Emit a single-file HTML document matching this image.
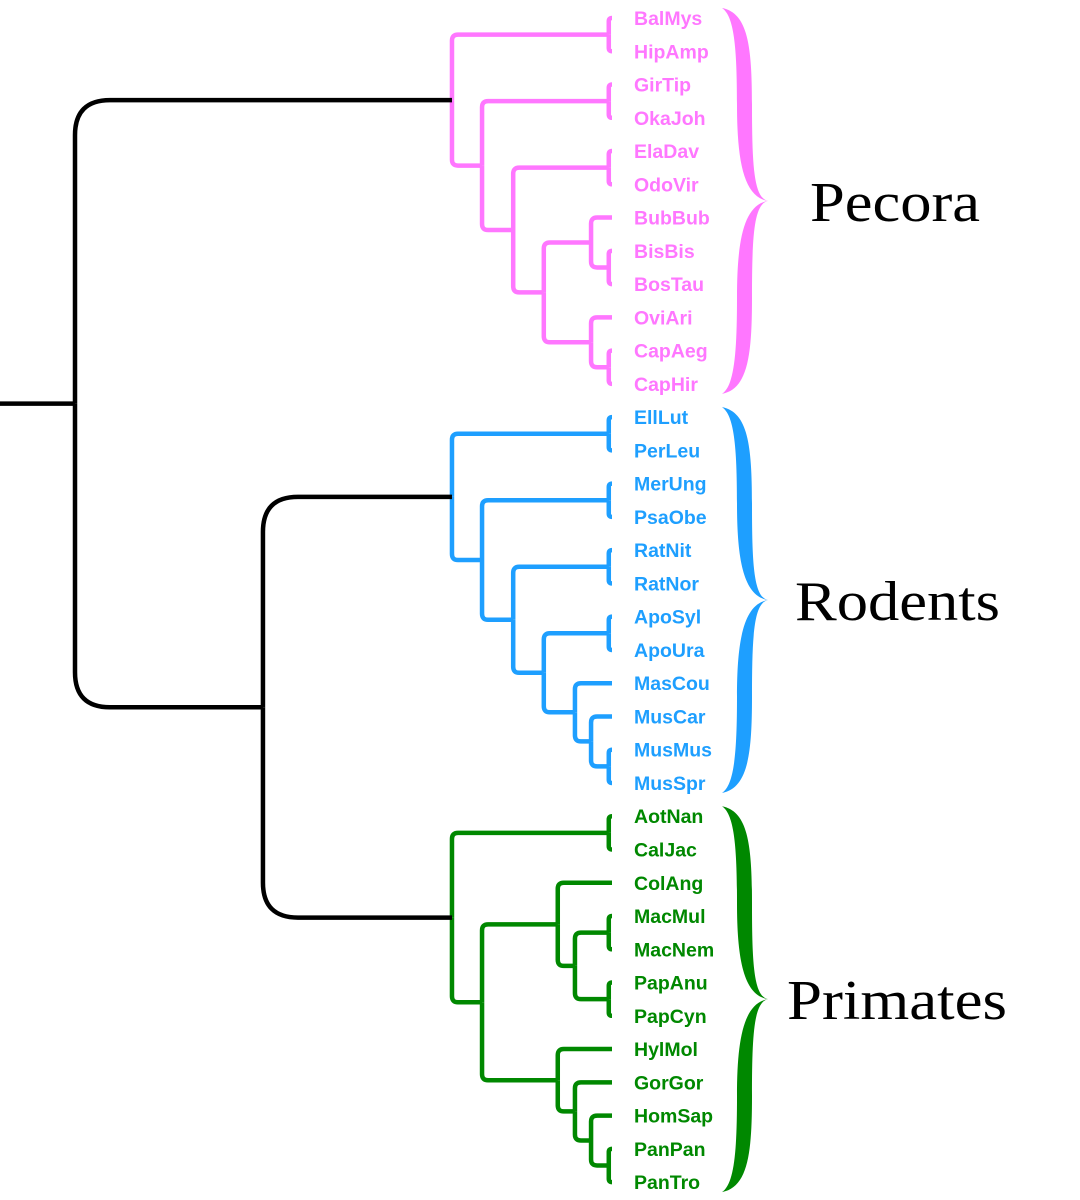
<!DOCTYPE html>
<html><head><meta charset="utf-8">
<style>
html,body{margin:0;padding:0;background:#fff;}
svg{display:block;}
.leaf{font-family:"Liberation Sans",sans-serif;font-weight:bold;font-size:19.5px;}
.clade{font-family:"Liberation Serif",serif;font-size:56px;fill:#000;}
</style></head>
<body>
<svg id="chart" width="1080" height="1200" viewBox="0 0 1080 1200" xmlns="http://www.w3.org/2000/svg"></svg>
<script>
// node heights (0 = leaves, 1 = root)
const rootHeight = 1.0;
const groupHeights = [0.298, 0.298, 0.298];
const innerHeight = 0.65;
const groupNames = ["Pecora", "Rodents", "Primates"];
const groupColors = ["#ff77ff", "#1e9fff", "#008800"];
// subtrees: [height, left, right] or leaf name
const pecora = [0.298, [0.006, "BalMys", "HipAmp"],
  [0.242, [0.006, "GirTip", "OkaJoh"],
    [0.184, [0.006, "ElaDav", "OdoVir"],
      [0.127, [0.039, "BubBub", [0.006, "BisBis", "BosTau"]],
              [0.039, "OviAri", [0.006, "CapAeg", "CapHir"]]]]]];
const rodents = [0.298, [0.006, "EllLut", "PerLeu"],
  [0.242, [0.006, "MerUng", "PsaObe"],
    [0.184, [0.006, "RatNit", "RatNor"],
      [0.127, [0.006, "ApoSyl", "ApoUra"],
        [0.069, "MasCou", [0.039, "MusCar", [0.006, "MusMus", "MusSpr"]]]]]]];
const primates = [0.298, [0.006, "AotNan", "CalJac"],
  [0.242, [0.101, "ColAng", [0.069, [0.006, "MacMul", "MacNem"], [0.006, "PapAnu", "PapCyn"]]],
          [0.101, "HylMol", [0.069, "GorGor", [0.039, "HomSap", [0.006, "PanPan", "PanTro"]]]]]];
const subtrees = [pecora, rodents, primates];

const svg = document.getElementById('chart');
const NS = "http://www.w3.org/2000/svg";
const xScale = h => 612 - h * 537;
const yTop = 18, yStep = 33.26;
let leafIndex = 0;

function mk(tag, attrs){ const e=document.createElementNS(NS,tag); for(const k in attrs) e.setAttribute(k,attrs[k]); svg.appendChild(e); return e; }

function elbow(px, py, cx, cy, r, color, w){
  const dy = cy - py, s = Math.sign(dy);
  r = Math.min(r, Math.abs(dy), cx - px);
  let d;
  if (s === 0 || r <= 0) d = `M${px},${py} L${px},${cy} L${cx},${cy}`;
  else d = `M${px},${py} L${px},${cy - s*r} Q${px},${cy} ${px + r},${cy} L${cx},${cy}`;
  const p = mk('path', {d: d, fill: 'none', stroke: color, 'stroke-width': w});
  
  
}

function layout(node, color, ys){
  if (typeof node === 'string'){
    const y = yTop + yStep * leafIndex++;
    ys.push(y);
    const t = mk('text', {x: 634, y: y + 7, class: 'leaf', fill: color});
    t.textContent = node;
    
    
    return {x: 612, y: y};
  }
  const a = layout(node[1], color, ys), b = layout(node[2], color, ys);
  const x = xScale(node[0]), y = (a.y + b.y) / 2;
  elbow(x, y, a.x, a.y, 6, color, 4.5);
  elbow(x, y, b.x, b.y, 6, color, 4.5);
  return {x: x, y: y};
}

function brace(x0, y0, y1, color, name){
  const ym = (y0 + y1) / 2, q = (ym - y0) / 2;
  const d = `M${x0},${y0} ` +
    `C${x0+26},${y0+5} ${x0+30},${y0+q*0.4} ${x0+30},${y0+q} ` +
    `C${x0+30},${ym-q*0.35} ${x0+32},${ym-3} ${x0+46},${ym} ` +
    `C${x0+32},${ym+3} ${x0+30},${ym+q*0.35} ${x0+30},${y1-q} ` +
    `C${x0+30},${y1-q*0.4} ${x0+26},${y1-5} ${x0},${y1} ` +
    `C${x0+12},${y1-8} ${x0+15},${y1-q*0.4} ${x0+15},${y1-q} ` +
    `C${x0+15},${ym+q*0.4} ${x0+22},${ym+4} ${x0+46},${ym} ` +
    `C${x0+22},${ym-4} ${x0+15},${ym-q*0.4} ${x0+15},${y0+q} ` +
    `C${x0+15},${y0+q*0.4} ${x0+12},${y0+8} ${x0},${y0} Z`;
  const p = mk('path', {d: d, fill: color});
  
  
  return ym;
}

const groupPos = [];
const labelX = [810, 795, 787];
const labelW = [170, 205, 220];
subtrees.forEach((st, i) => {
  const ys = [];
  const pos = layout(st, groupColors[i], ys);
  groupPos.push(pos);
  const ym = brace(722, ys[0] - 10, ys[ys.length-1] + 10, groupColors[i], groupNames[i].toLowerCase());
  const t = mk('text', {x: labelX[i], y: ym + 20, class: 'clade', textLength: labelW[i], lengthAdjust: 'spacingAndGlyphs'});
  t.textContent = groupNames[i];
  
  
});

const xi = xScale(innerHeight), xr = xScale(rootHeight);
const yi = (groupPos[1].y + groupPos[2].y) / 2;
elbow(xi, yi, groupPos[1].x, groupPos[1].y, 35, '#000', 4.5);
elbow(xi, yi, groupPos[2].x, groupPos[2].y, 35, '#000', 4.5);
const yr = (groupPos[0].y + yi) / 2;
elbow(xr, yr, groupPos[0].x, groupPos[0].y, 35, '#000', 4.5);
elbow(xr, yr, xi, yi, 35, '#000', 4.5);
const stub = mk('path', {d: `M0,${yr} L${xr},${yr}`, stroke: '#000', 'stroke-width': 4.5, fill: 'none'});


</script>
</body></html>
